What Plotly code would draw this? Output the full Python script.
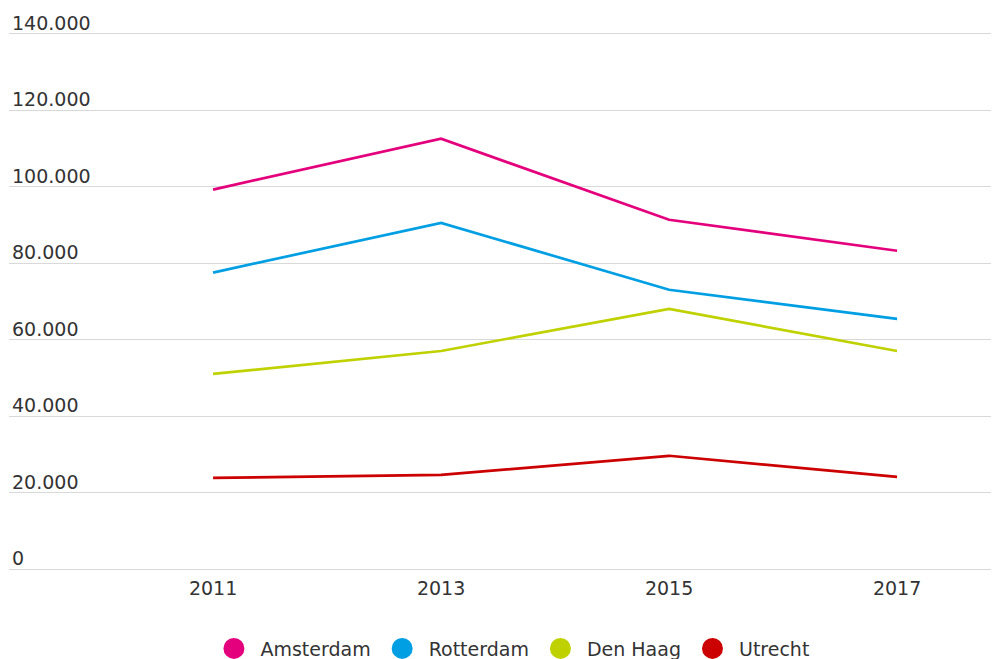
import plotly.graph_objects as go

years = ["2011", "2013", "2015", "2017"]
amsterdam = [99200, 112500, 91300, 83200]
rotterdam = [77500, 90500, 73000, 65400]
den_haag = [51000, 57000, 68000, 57000]
utrecht = [23800, 24600, 29600, 24100]

series = [
    ("Amsterdam", amsterdam, "#e4007c"),
    ("Rotterdam", rotterdam, "#009fe3"),
    ("Den Haag", den_haag, "#bfd200"),
    ("Utrecht", utrecht, "#cc0000"),
]

y_ticks = [0, 20000, 40000, 60000, 80000, 100000, 120000, 140000]
y_tick_text = ["0", "20.000", "40.000", "60.000", "80.000", "100.000", "120.000", "140.000"]

FONT = "DejaVu Sans, Verdana, sans-serif"
FS = 19
fig = go.Figure()
for name, vals, col in series:
    fig.add_trace(go.Scatter(x=years, y=vals, mode="lines", name=name,
                             line=dict(color=col, width=2.7),
                             showlegend=False, hoverinfo="x+y+name"))
for name, vals, col in series:
    fig.add_trace(go.Scatter(x=[None], y=[None], mode="markers", name=name,
                             marker=dict(color=col, size=16, symbol="circle",
                                         line=dict(color=col, width=5)),
                             showlegend=True))

fig.update_layout(
    width=991, height=651,
    margin=dict(l=1, r=0, t=0, b=84),
    paper_bgcolor="white", plot_bgcolor="white",
    font=dict(family=FONT, size=FS, color="#333333"),
    showlegend=True,
    legend=dict(orientation="h", x=0.507, xanchor="center",
                yref="container", y=0.016, yanchor="middle",
                font=dict(size=FS, color="#333333"), itemsizing="trace",
                itemwidth=43),
    xaxis=dict(type="category", range=[-0.895, 3.447], showgrid=False, zeroline=False,
               showline=False, ticks="", ticklabelstandoff=0,
               tickfont=dict(size=FS, color="#333333")),
    yaxis=dict(range=[-1569, 146667], tickvals=y_ticks, ticktext=y_tick_text,
               showgrid=True, gridcolor="#d9d9d9", gridwidth=1,
               zeroline=True, zerolinecolor="#d9d9d9", zerolinewidth=1,
               showline=False, ticks="", ticklabelposition="inside top",
               ticklabelshift=3,
               tickfont=dict(size=FS, color="#333333")),
)
fig.write_html("out.html")
